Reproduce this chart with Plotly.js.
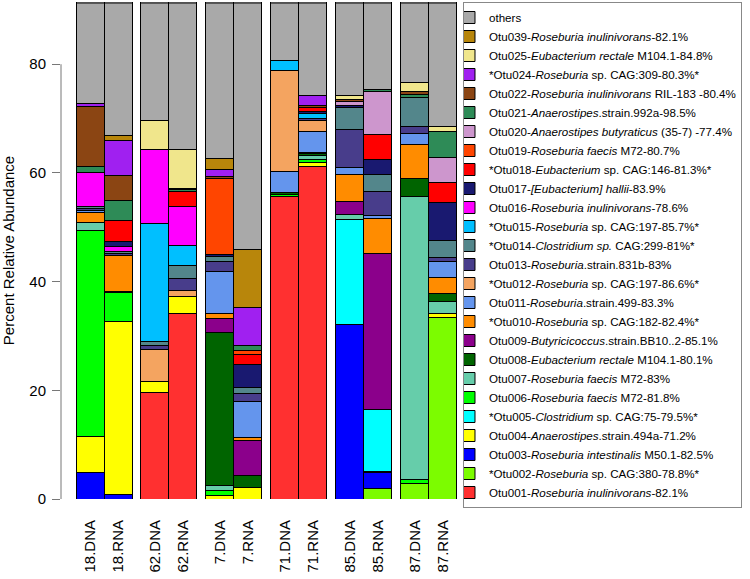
<!DOCTYPE html>
<html>
<head>
<meta charset="utf-8">
<script src="https://cdn.plot.ly/plotly-3.0.1.min.js"></script>
<style>html,body{margin:0;padding:0;background:#fff;} #chart{width:750px;height:579px;}</style>
</head>
<body>
<div id="chart"></div>
<script>
// Sample labels (x axis), in plotting order
const samples = ['18.DNA','18.RNA','62.DNA','62.RNA','7.DNA','7.RNA','71.DNA','71.RNA','85.DNA','85.RNA','87.DNA','87.RNA'];

// Percent relative abundance per OTU, one value per sample (order as samples)
const otu001 = [0,0,19.6,34.2,0,0,55.6,61.1,0,0,0,0];
const otu002 = [0,0,0,0,0,0,0,0,0,2.0,2.9,33.4];
const otu003 = [4.9,0.9,0,0,0,0,0,0,32.1,2.8,0,0];
const otu004 = [6.6,31.85,2.1,3.0,0.6,2.1,0,0.9,0,0.3,0,0.8];
const otu005 = [0,0,0,0,0,0,0,0,19.4,11.3,0,0];
const otu006 = [37.9,5.3,0,0,1.0,0,0.5,0.4,0,0,0.6,0];
const otu007 = [1.4,0,0,0,0.8,0,0,0.8,0.8,0,52.1,2.1];
const otu008 = [0,0.2,0,0,28.2,2.2,0.3,0.3,0,0,3.3,1.5];
const otu009 = [0,0,0,0,2.65,6.4,0,0.3,2.5,28.8,0,0];
const otu010 = [1.9,6.5,0,0,0.95,0.6,0,0,5.0,6.4,6.3,3.0];
const otu011 = [0.3,0,0,0,7.6,6.7,3.8,3.8,1.2,0.6,2.0,2.9];
const otu012 = [0,0,5.9,1.25,0,0,18.6,2.1,0,0,0,0];
const otu013 = [0.5,0.4,0.7,2.15,1.9,1.4,0,0.4,6.9,4.4,1.4,0.7];
const otu014 = [0.4,0.4,0.6,2.3,0.9,1.2,0,0,4.2,3.2,5.2,3.2];
const otu015 = [0,0,21.8,3.7,0,0,1.8,0.9,0,0,0,0];
const otu016 = [6.2,0.9,13.7,7.2,0,0,0,0,0,0,0,0];
const otu017 = [0,1.0,0,0,0.3,4.1,0,0.3,0.3,2.7,0,7.0];
const otu018 = [0,3.8,0,2.7,0,1.8,0,0.8,0,4.6,0,3.7];
const otu019 = [0,0,0,0,14.0,0.9,0,0,0,0,0,0];
const otu020 = [0,0,0,0,0,0,0,0,0.8,7.8,0,4.6];
const otu021 = [1.0,3.6,0,0.5,0,0.9,0,0,0,0.5,0.7,4.8];
const otu022 = [11.2,4.7,0,0.2,0.4,0,0,0.3,0.3,0,0.5,0];
const otu024 = [0.4,6.5,0,0,1.3,7.0,0,1.8,0,0,0,0];
const otu025 = [0,0,5.3,7.1,0,0,0,0,0.8,0,1.6,0.8];
const otu039 = [0,0.8,0,0,2.0,10.6,0,0,0,0,0,0];
const others = [27.3,33.15,30.3,35.7,37.4,54.1,19.4,25.8,25.7,24.6,23.4,31.5];

// Legend names (bottom of stack first)
const names = [
  'Otu001-<i>Roseburia inulinivorans</i>-82.1%',
  '*Otu002-<i>Roseburia</i> sp. CAG:380-78.8%*',
  'Otu003-<i>Roseburia intestinalis</i> M50.1-82.5%',
  'Otu004-<i>Anaerostipes</i>.strain.494a-71.2%',
  '*Otu005-<i>Clostridium</i> sp. CAG:75-79.5%*',
  'Otu006-<i>Roseburia faecis</i> M72-81.8%',
  'Otu007-<i>Roseburia faecis</i> M72-83%',
  'Otu008-<i>Eubacterium rectale</i> M104.1-80.1%',
  'Otu009-<i>Butyricicoccus</i>.strain.BB10..2-85.1%',
  '*Otu010-<i>Roseburia</i> sp. CAG:182-82.4%*',
  'Otu011-<i>Roseburia</i>.strain.499-83.3%',
  '*Otu012-<i>Roseburia</i> sp. CAG:197-86.6%*',
  'Otu013-<i>Roseburia</i>.strain.831b-83%',
  '*Otu014-<i>Clostridium sp.</i> CAG:299-81%*',
  '*Otu015-<i>Roseburia</i> sp. CAG:197-85.7%*',
  'Otu016-<i>Roseburia inulinivorans</i>-78.6%',
  'Otu017-<i>[Eubacterium] hallii</i>-83.9%',
  '*Otu018-<i>Eubacterium</i> sp. CAG:146-81.3%*',
  'Otu019-<i>Roseburia faecis</i> M72-80.7%',
  'Otu020-<i>Anaerostipes butyraticus</i> (35-7) -77.4%',
  'Otu021-<i>Anaerostipes</i>.strain.992a-98.5%',
  'Otu022-<i>Roseburia inulinivorans</i> RIL-183 -80.4%',
  '*Otu024-<i>Roseburia</i> sp. CAG:309-80.3%*',
  'Otu025-<i>Eubacterium rectale</i> M104.1-84.8%',
  'Otu039-<i>Roseburia inulinivorans</i>-82.1%',
  'others'
];
const series = [otu001,otu002,otu003,otu004,otu005,otu006,otu007,otu008,otu009,otu010,otu011,otu012,otu013,otu014,otu015,otu016,otu017,otu018,otu019,otu020,otu021,otu022,otu024,otu025,otu039,others];
const colors = ['#FF3030','#7CFC00','#0000FF','#FFFF00','#00FFFF','#00FF00','#66CDAA','#006400','#8B008B','#FF8C00','#6495ED','#F4A460','#483D8B','#53868B','#00BFFF','#FF00FF','#191970','#FF0000','#FF4500','#CD96CD','#2E8B57','#8B4513','#A020F0','#F0E68C','#B8860B','#A9A9A9'];

// bar positions: pairs of bars with a gap between sample groups
const groupGap = 0.32;
const xpos = samples.map((s, i) => Math.floor(i / 2) * (2 + groupGap) + (i % 2));

const traces = series.map((vals, k) => ({
  type: 'bar',
  x: xpos,
  y: vals,
  name: names[k],
  width: 1,
  marker: {color: colors[k], line: {color: '#000', width: 1}},
  hoverinfo: 'name+y'
}));

const font = 'Liberation Sans, Arial, Helvetica, sans-serif';
const shapes = [
  {type: 'line', xref: 'paper', yref: 'y', x0: 0, x1: 0, y0: 0, y1: 80, line: {color: '#777', width: 1}}
];
xpos.forEach(p => shapes.push({type: 'line', xref: 'x', yref: 'paper', x0: p - 0.5, x1: p + 0.5, y0: 0.998, y1: 0.998, line: {color: '#000', width: 1}}));

const layout = {
  width: 750, height: 579,
  margin: {l: 61, r: 290, t: 2, b: 80, autoexpand: false},
  paper_bgcolor: '#fff', plot_bgcolor: '#fff',
  barmode: 'stack', bargap: 0,
  font: {family: font, color: '#000'},
  showlegend: true,
  xaxis: {
    range: [-1.036, 13.214], tickmode: 'array', tickvals: xpos, ticktext: samples,
    tickangle: -90, ticks: '', showline: false, showgrid: false, zeroline: false,
    tickfont: {size: 15, family: font, color: '#000'}, ticklabelstandoff: 17
  },
  yaxis: {
    range: [0, 91.45], tickvals: [0,20,40,60,80], ticks: 'outside', ticklen: 8, tickcolor: '#777',
    showline: false, showgrid: false, zeroline: false,
    tickfont: {size: 15, family: font, color: '#000'}, ticklabelstandoff: 3,
    title: {text: 'Percent Relative Abundance', font: {size: 15, family: font, color: '#000'}, standoff: 12}
  },
  legend: {
    x: 1.0075, xanchor: 'left', y: 1, yanchor: 'top',
    traceorder: 'reversed', bordercolor: '#888', borderwidth: 1, bgcolor: '#fff',
    font: {size: 11.6, family: font, color: '#000'}, indentation: -15, maxheight: 540
  },
  shapes: shapes
};

Plotly.newPlot('chart', traces, layout, {staticPlot: true, displayModeBar: false});
</script>
</body>
</html>
